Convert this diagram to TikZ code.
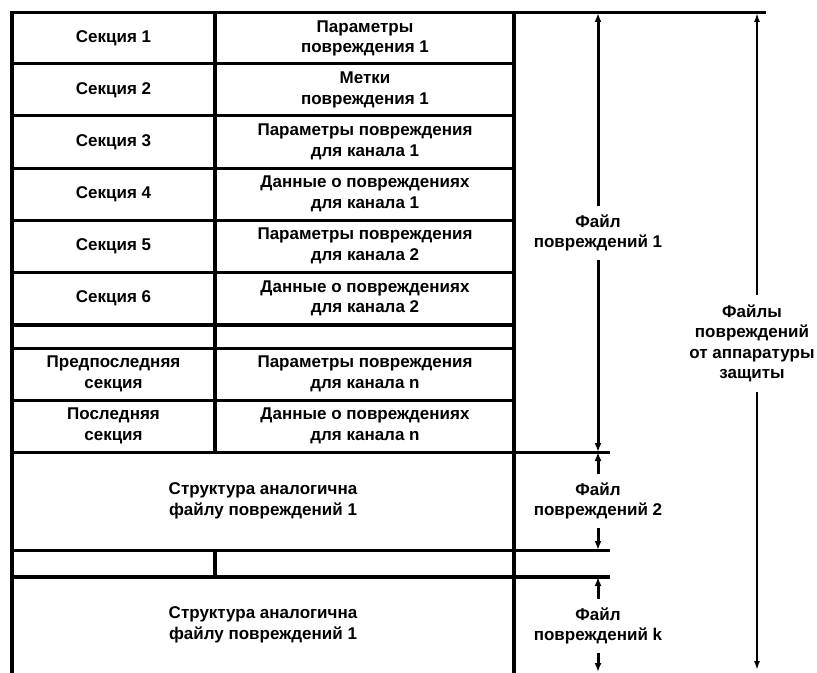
\documentclass[tikz,border=0pt]{standalone}
\usepackage{fontspec}
\setmainfont{Liberation Sans}
\usetikzlibrary{arrows.meta}
\begin{document}
\begin{tikzpicture}[x=1bp,y=-1bp,
  rule/.style={line width=3bp},
  vrule/.style={line width=4bp},
  txt/.style={font=\bfseries\fontsize{17bp}{20.5bp}\selectfont, align=center, inner sep=0pt},
  lbl/.style={font=\bfseries\fontsize{17bp}{20.5bp}\selectfont, align=center, inner xsep=0pt, inner ysep=8bp},
  dimarrow/.style={line width=3bp, -{Latex[length=9bp,width=7bp]}},
  bigarrow/.style={line width=1.6bp, -{Latex[length=9bp,width=6bp]}}]

\useasboundingbox (0,0) rectangle (817,673);

% horizontal rules
\draw[rule] (12,13) -- (766,13);
\foreach \y in {64,116,168,220,272,348,400} \draw[rule] (12,\y) -- (514,\y);
\draw[vrule] (12,325) -- (514,325);
\foreach \y in {452,550} \draw[rule] (12,\y) -- (610,\y);
\draw[vrule] (12,577) -- (610,577);

% vertical rules
\draw[vrule] (12,11.5) -- (12,673);
\draw[vrule] (514,11.5) -- (514,673);
\draw[vrule] (215,13) -- (215,452);
\draw[vrule] (215,550) -- (215,577);

% left column
\node[txt] (s1) at (113.5,38.5) {Секция 1};
\node[txt] (s2) at (113.5,90) {Секция 2};
\node[txt] (s3) at (113.5,142) {Секция 3};
\node[txt] (s4) at (113.5,194) {Секция 4};
\node[txt] (s5) at (113.5,246) {Секция 5};
\node[txt] (s6) at (113.5,298.5) {Секция 6};
\node[txt] (sp) at (113.5,374) {Предпоследняя\\секция};
\node[txt] (sl) at (113.5,426) {Последняя\\секция};

% right column
\node[txt] (r1) at (365,38.5) {Параметры\\повреждения 1};
\node[txt] (r2) at (365,90) {Метки\\повреждения 1};
\node[txt] (r3) at (365,142) {Параметры повреждения\\для канала 1};
\node[txt] (r4) at (365,194) {Данные о повреждениях\\для канала 1};
\node[txt] (r5) at (365,246) {Параметры повреждения\\для канала 2};
\node[txt] (r6) at (365,298.5) {Данные о повреждениях\\для канала 2};
\node[txt] (r7) at (365,374) {Параметры повреждения\\для канала n};
\node[txt] (r8) at (365,426) {Данные о повреждениях\\для канала n};

% structure rows
\node[txt] (st2) at (263,501) {Структура аналогична\\файлу повреждений 1};
\node[txt] (stk) at (263,625) {Структура аналогична\\файлу повреждений 1};

% dimension labels
\node[lbl] (f1) at (598,233) {Файл\\повреждений 1};
\node[lbl] (f2) at (598,501) {Файл\\повреждений 2};
\node[lbl] (fk) at (598,626) {Файл\\повреждений k};
\node[lbl, inner ysep=10bp] (fa) at (752,343.5) {Файлы\\повреждений\\от аппаратуры\\защиты};

% dimension end points
\coordinate (t1) at (598,13);
\coordinate (b1) at (598,452);
\coordinate (t2) at (598,452);
\coordinate (b2) at (598,550);
\coordinate (tk) at (598,577);
\coordinate (bk) at (598,672);
\coordinate (ta) at (757,13);
\coordinate (ba) at (757,670);

% dimension arrows
\draw[dimarrow] (f1.north) -- (t1);
\draw[dimarrow] (f1.south) -- (b1);
\draw[dimarrow] (f2.north) -- (t2);
\draw[dimarrow] (f2.south) -- (b2);
\draw[dimarrow] (fk.north) -- (tk);
\draw[dimarrow] (fk.south) -- (bk);
\draw[bigarrow] (fa.north -| ta) -- (ta);
\draw[bigarrow] (fa.south -| ba) -- (ba);
\end{tikzpicture}
\end{document}
